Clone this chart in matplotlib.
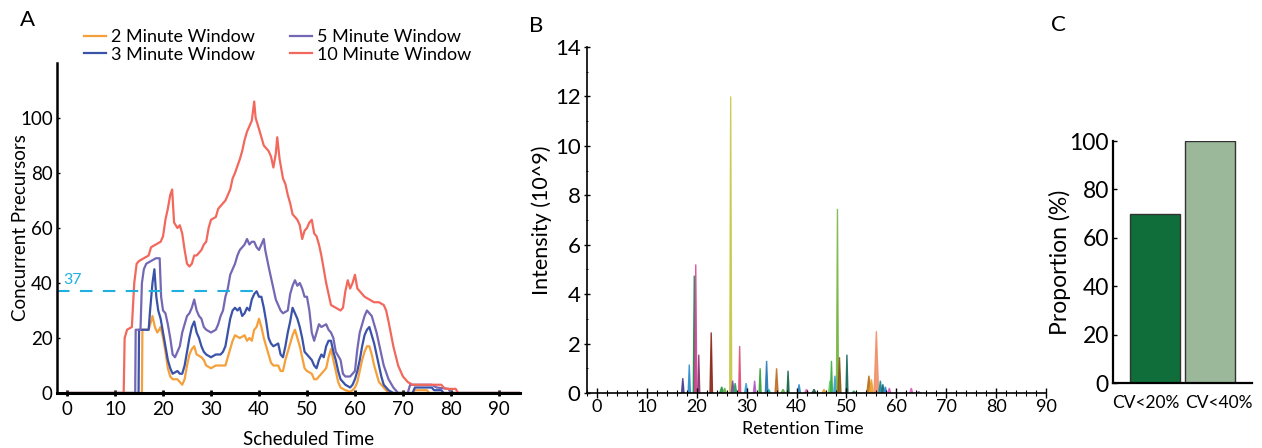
import matplotlib
matplotlib.use("Agg")
import matplotlib.pyplot as plt
from matplotlib.ticker import MultipleLocator

plt.rcParams['font.family'] = ['Lato', 'DejaVu Sans']

# ---------------- Panel A data ----------------
t_10 = [0, 11.8, 12.0, 12.5, 13.5, 14.0, 14.5, 15, 16, 17, 17.5, 18.5, 19.5, 20, 20.5, 21, 21.5, 21.9, 22.3, 23,
        23.5, 24, 24.5, 25, 25.5, 26, 26.5, 27, 28, 28.5, 29, 29.5, 30, 31, 31.5, 32, 33, 34, 34.5, 35, 36, 36.5,
        37, 37.5, 38, 38.5, 39, 39.3, 40, 40.5, 41, 42, 42.5, 43, 43.5, 43.8, 44.3, 45, 45.5, 46, 46.5, 47, 48,
        48.5, 49, 49.5, 50, 50.5, 51, 51.5, 52, 52.5, 53, 53.5, 54, 54.5, 55, 56, 57, 57.5, 58, 58.5, 59, 59.5,
        60, 60.5, 61, 62, 63, 64, 65, 66, 66.5, 67, 68, 69, 70, 71, 72, 78, 78.5, 79, 81, 81.5, 95]
v_10 = [0, 0, 20, 23, 24, 40, 47, 48, 49, 50, 53, 54, 55, 57, 63, 67, 72, 74, 62, 60,
        61, 58, 52, 47, 46, 47, 50, 50, 52, 54, 55, 60, 63, 64, 67, 68, 70, 74, 78, 80, 85, 88,
        92, 95, 97, 99, 106, 100, 96, 93, 90, 88, 86, 82, 87, 93, 85, 78, 76, 72, 69, 65, 63,
        61, 56, 59, 60, 62, 63, 58, 57, 54, 50, 45, 40, 36, 32, 31, 30, 31, 37, 41, 38, 40,
        43, 38, 37, 35, 34, 33, 33, 32, 30, 26, 17, 10, 6, 4, 3, 3, 2, 1.5, 1.5, 0, 0]

t_5 = [0, 14.2, 14.3, 15.3, 15.6, 16, 16.5, 17.5, 18.5, 19.3, 19.6, 20, 20.5, 21, 21.5, 22, 22.5, 23, 23.5, 24,
       24.5, 25, 25.5, 26, 26.5, 27, 27.5, 28, 28.5, 29, 30, 31, 31.5, 32, 32.5, 33, 33.5, 34, 35, 35.5, 36, 37,
       37.5, 38, 38.5, 39, 39.5, 40, 40.5, 41, 41.3, 42, 42.5, 43, 43.5, 44, 44.5, 45, 46, 46.5, 47, 47.5, 48,
       48.5, 49, 49.5, 50, 50.5, 51, 51.5, 52, 52.5, 53, 54, 54.5, 55, 55.5, 56, 57, 57.5, 58, 59, 60, 60.5, 61,
       61.5, 62, 62.5, 63, 63.5, 64, 64.5, 65, 66, 67, 68, 68.5, 69, 71, 71.5, 76, 77, 79.5, 80, 95]
v_5 = [0, 0, 23, 23, 40, 45, 47, 48, 49, 49, 35, 30, 29, 25, 20, 14, 13, 15, 17, 22,
       25, 28, 29, 31, 34, 30, 28, 27, 24, 23, 22, 23, 25, 28, 30, 35, 38, 43, 47, 50, 52, 54,
       56, 54, 55, 55, 53, 52, 54, 56, 52, 46, 42, 38, 34, 32, 30, 29, 30, 36, 39, 41, 39,
       40, 38, 35, 35, 30, 22, 19, 22, 25, 24, 25, 23, 22, 20, 15, 12, 7, 6, 6, 8, 16, 22,
       25, 28, 30, 29, 28, 25, 22, 18, 10, 5, 2, 1, 0, 0, 3, 3, 2, 1.5, 0, 0]

t_3 = [0, 14.9, 15.0, 17.0, 17.3, 17.8, 18.2, 18.6, 19, 19.5, 20, 20.5, 21, 21.5, 22, 23, 23.5, 24, 24.5, 25,
       25.5, 26, 26.5, 27, 27.5, 28, 28.5, 29, 30, 31, 32, 32.5, 33, 33.5, 34, 34.5, 35, 35.5, 36, 36.5, 37,
       37.5, 38, 38.5, 39, 39.5, 40, 40.5, 41, 41.5, 42, 42.5, 43, 44, 44.5, 45, 45.5, 46, 46.5, 47, 47.5, 48,
       48.5, 49, 49.5, 50, 51, 51.5, 52, 52.5, 53, 53.5, 54, 54.5, 55, 55.5, 56, 56.5, 57, 58, 59, 59.5, 60,
       60.5, 61, 61.5, 62, 62.5, 63, 63.5, 64, 64.5, 65, 65.5, 66, 67, 68, 72, 72.5, 76, 76.5, 78, 78.5, 95]
v_3 = [0, 0, 23, 23, 30, 40, 45, 35, 30, 27, 22, 17, 12, 9, 7, 8, 7, 7, 10, 15,
       20, 24, 26, 22, 20, 17, 15, 14, 13, 14, 14, 15, 17, 22, 27, 30, 31, 30, 31, 28, 29,
       31, 30, 34, 36, 37, 35, 35, 31, 26, 20, 18, 17, 18, 14, 13, 17, 22, 26, 31, 29, 27,
       24, 20, 15, 14, 12, 10, 9, 12, 14, 13, 17, 19, 19, 15, 12, 8, 5, 3, 2, 3, 5,
       8, 12, 17, 21, 23, 24, 21, 18, 14, 10, 6, 3, 1, 0, 0, 2, 2, 1, 1, 0, 0]

t_2 = [0, 15.6, 15.7, 17, 17.5, 17.8, 18.3, 18.8, 19.2, 19.5, 20, 20.5, 21, 21.5, 22, 23, 23.5, 24, 24.5, 25,
       25.5, 26, 26.5, 27, 28, 28.5, 29, 30, 31, 32, 33, 33.5, 34, 34.5, 35, 36, 37, 37.5, 38, 38.5, 39, 39.5,
       40, 40.5, 41, 41.5, 42, 42.5, 43, 44, 44.5, 45, 45.5, 46, 46.5, 47, 47.5, 48, 48.5, 49, 49.5, 50, 51,
       51.5, 52, 52.5, 53, 54, 54.5, 55, 55.5, 56, 56.5, 57, 58, 59, 59.5, 60, 60.5, 61, 61.5, 62, 62.5, 63,
       63.5, 64, 64.5, 65, 66, 67, 72, 72.5, 75, 75.5, 95]
v_2 = [0, 0, 23, 23, 26, 28, 24, 22, 23, 24, 20, 15, 9, 6, 5, 5, 4, 3, 5, 10,
       14, 16, 17, 14, 13, 12, 10, 9, 10, 10, 10, 13, 16, 19, 21, 20, 21, 19, 20, 19, 23, 24,
       27, 24, 20, 17, 14, 11, 10, 10, 8, 8, 12, 15, 18, 21, 23, 20, 17, 13, 9, 8, 7,
       5, 5, 6, 7, 9, 13, 16, 12, 8, 4, 2, 1, 0.5, 1, 2, 4, 8, 12, 15, 17, 17,
       14, 10, 7, 4, 2, 0, 0, 1, 1, 0, 0]

threshold = 37

# ---------------- Panel B data ----------------
peak_rt = [17.2, 18.5, 19.5, 19.8, 20.4, 22.9, 25.0, 25.6, 26.8, 27.2, 27.7, 28.6, 29.9, 31.6, 32.7, 34.0,
           34.4, 36.0, 37.3, 38.3, 40.5, 42.0, 43.5, 45.5, 46.7, 47.0, 47.7, 48.2, 48.6, 50.1, 51.5,
           54.5, 55.0, 56.0, 56.8, 57.3, 57.8, 58.6, 63.0, 64.5]
peak_h = [0.6, 1.15, 4.75, 5.2, 1.55, 2.45, 0.25, 0.2, 12.0, 0.5, 0.4, 1.9, 0.4, 0.5, 1.0, 1.3,
          0.15, 1.0, 0.15, 0.9, 0.35, 0.15, 0.15, 0.15, 0.5, 1.3, 0.7, 7.45, 1.45, 1.55, 0.08,
          0.7, 0.55, 2.5, 0.5, 0.35, 0.25, 0.2, 0.2, 0.05]
peak_w = [0.5, 0.45, 0.4, 0.4, 0.4, 0.5, 0.8, 0.6, 0.4, 0.6, 0.6, 0.4, 0.6, 0.5, 0.4, 0.5,
          0.8, 0.6, 0.8, 0.4, 0.6, 0.8, 0.8, 0.8, 0.6, 0.4, 0.5, 0.4, 0.6, 0.4, 0.8,
          0.8, 0.8, 0.9, 0.6, 0.6, 0.6, 0.6, 0.6, 0.8]
peak_c = ['#4a3f8f', '#2f8fd0', '#1a8a4a', '#d9449a', '#8b3a6e', '#8b2a1a', '#2a9a4a', '#6ab04a',
          '#c8c84a', '#8a4aa0', '#2aa06a', '#e0507a', '#3aa0e0', '#b060c0', '#3aa43a', '#2a7ab8',
          '#1ab0b0', '#c0702a', '#6ab04a', '#1a6a4a', '#2f8fd0', '#e060c0', '#2a5a4a', '#f0a030',
          '#6ad06a', '#3ab04a', '#3aa0e0', '#7ab848', '#8a5a1a', '#1a6a5a', '#2a9a4a',
          '#b8741a', '#f0a030', '#f0906a', '#1a8a9a', '#1a6a7a', '#2f8fd0', '#e060c0', '#e060c0', '#8a4aa0']

# ---------------- Panel C data ----------------
cv_labels = ['CV<20%', 'CV<40%']
cv_values = [70, 100]

# ---------------- Figure ----------------
W, H = 1262, 448
fig = plt.figure(figsize=(W / 100, H / 100), dpi=100)


def rect(l, t, r, b):
    return [l / W, 1 - b / H, (r - l) / W, (b - t) / H]


# Panel A
axA = fig.add_axes(rect(57, 63, 520, 393))
cA = {'2': '#f5a03a', '3': '#3a52a8', '5': '#7468b4', '10': '#f2685c'}
axA.plot(t_2, v_2, color=cA['2'], lw=1.6, label='2 Minute Window')
axA.plot(t_3, v_3, color=cA['3'], lw=1.6, label='3 Minute Window')
axA.plot(t_5, v_5, color=cA['5'], lw=1.6, label='5 Minute Window')
axA.plot(t_10, v_10, color=cA['10'], lw=1.6, label='10 Minute Window')
axA.plot([-2.1, 40], [threshold, threshold], color='#1fb0e0', lw=1.5, dashes=(6, 5))
axA.text(-0.8, threshold + 1.5, str(threshold), color='#1fb0e0', fontsize=11.5, ha='left', va='bottom')
axA.set_xlim(-2.1, 94.4)
axA.set_ylim(0, 120)
axA.set_xticks(range(0, 91, 10))
axA.set_yticks(range(0, 101, 20))
for s in ['top', 'right']:
    axA.spines[s].set_visible(False)
axA.spines['bottom'].set_linewidth(2.2)
axA.spines['left'].set_linewidth(1.8)
axA.tick_params(axis='x', direction='inout', length=5, width=2, labelsize=13.5, pad=3)
axA.tick_params(axis='y', direction='in', length=2, width=1, labelsize=13.5, pad=3)
axA.set_ylabel('Concurrent Precursors', fontsize=13.5)
axA.yaxis.set_label_coords((29 - 57) / (520 - 57), 0.5)
axA.set_xlabel('Scheduled Time', fontsize=13.5)
axA.xaxis.set_label_coords((309 - 57) / (520 - 57), -(431 - 393) / (393 - 63))
axA.legend(loc='upper left', bbox_to_anchor=(84 / W, 1 - 29 / H), bbox_transform=fig.transFigure,
           ncol=2, frameon=False, fontsize=13, handlelength=1.2, handletextpad=0.3,
           columnspacing=1.95, labelspacing=0.1, borderpad=0, borderaxespad=0)

# Panel B
axB = fig.add_axes(rect(587, 47, 1046, 393))
for rt, h, w, c in zip(peak_rt, peak_h, peak_w, peak_c):
    axB.fill([rt - w / 2, rt, rt + w / 2], [0, h, 0], color=c, alpha=0.9, lw=1.0, ec=c)
axB.set_xlim(-2, 90)
axB.set_ylim(0, 14)
axB.set_xticks(range(0, 91, 10))
axB.xaxis.set_minor_locator(MultipleLocator(2))
axB.set_yticks(range(0, 15, 2))
axB.yaxis.set_minor_locator(MultipleLocator(1))
for s in ['top', 'right']:
    axB.spines[s].set_visible(False)
axB.spines['bottom'].set_linewidth(1.2)
axB.spines['left'].set_linewidth(1.2)
axB.tick_params(axis='x', which='major', direction='inout', length=7, width=1, labelsize=13, pad=1)
axB.tick_params(axis='x', which='minor', direction='inout', length=4, width=0.8)
axB.tick_params(axis='y', which='major', direction='inout', length=5, width=1, labelsize=16, pad=2)
axB.tick_params(axis='y', which='minor', direction='inout', length=2, width=0.6)
axB.set_ylabel('Intensity (10^9)', fontsize=15.5, labelpad=2)
axB.set_xlabel('Retention Time', fontsize=13)
axB.xaxis.set_label_coords((803 - 587) / (1046 - 587), -(421 - 393) / (393 - 47))

# Panel C
axC = fig.add_axes(rect(1113, 141, 1252, 383))
bar_w = 0.9
axC.bar(range(len(cv_values)), cv_values, width=bar_w, color=['#0f6e3a', '#9cb89a'],
        edgecolor='#333333', linewidth=1)
axC.set_xlim(-0.76, 1.76)
axC.set_ylim(0, 100)
axC.set_xticks([])
xform = axC.get_xaxis_transform()
axC.text(0 + bar_w / 2, -0.05, cv_labels[0], transform=xform, ha='right', va='top', fontsize=12.5)
axC.text(1 - bar_w / 2, -0.05, cv_labels[1], transform=xform, ha='left', va='top', fontsize=12.5)
axC.set_yticks(range(0, 101, 20))
for s in ['top', 'right']:
    axC.spines[s].set_visible(False)
axC.spines['bottom'].set_linewidth(1.6)
axC.spines['left'].set_linewidth(1.6)
axC.tick_params(axis='y', direction='in', length=3, width=1, labelsize=16.5, pad=3)
axC.set_ylabel('Proportion (%)', fontsize=16.5, labelpad=-1)

# Panel labels
fig.text(28 / W, 1 - 20 / H, 'A', fontsize=16, ha='center', va='center')
fig.text(536 / W, 1 - 26 / H, 'B', fontsize=16, ha='center', va='center')
fig.text(1058 / W, 1 - 25 / H, 'C', fontsize=16, ha='center', va='center')

fig.savefig('out.png', dpi=100)
